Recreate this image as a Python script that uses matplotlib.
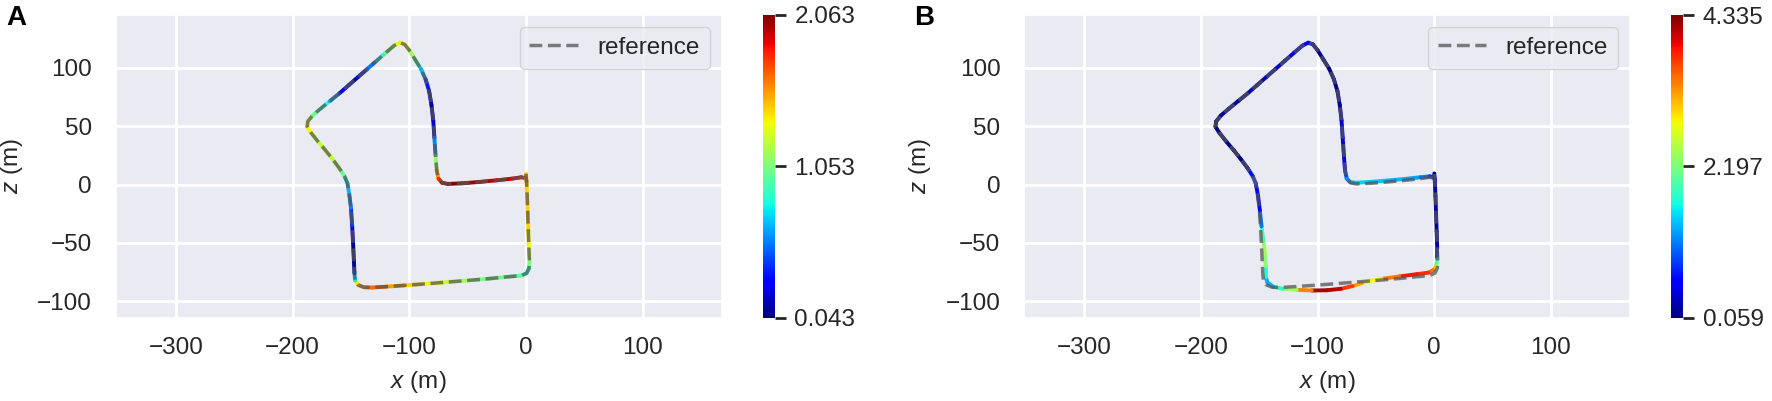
import numpy as np
import matplotlib
matplotlib.use("Agg")
import matplotlib.pyplot as plt
from matplotlib.collections import LineCollection
from matplotlib.colors import Normalize
import seaborn as sns

# ---------------- data ----------------
ref_x = [0.0, 0.5, 1.0, 1.5, 2.0, 2.5, 3.0, 2.5, 0.5, -4, -15, -30, -45, -60, -75, -90, -105, -120,
         -132, -139, -144, -146.5, -147, -147.5, -148.2, -149, -150, -151.5, -153, -155.5, -160, -166,
         -172, -178, -184, -187.5, -187, -183, -176, -168, -160, -152, -144, -136, -128, -120, -113,
         -108, -104, -100, -95, -90, -86, -83, -81, -79.5, -78.5, -77.5, -76.5, -75, -72, -67, -55,
         -40, -25, -12, -4, -0.5, 0.5]
ref_z = [9.0, 2.0, -10, -25, -40, -55, -66, -72, -76, -78, -79, -80.5, -81.8, -83, -84.2, -85.4, -86.5,
         -87.5, -88.3, -88, -86, -82, -76, -65, -50, -35, -20, -8, 1, 7, 14, 22, 29.5, 36.5, 44, 49.5,
         54, 59, 65, 71.5, 78, 85, 92, 99, 106, 113, 119, 121.5, 120, 115, 107, 99, 90, 80, 68, 55, 40,
         25, 12, 5, 1.5, 0.5, 1, 2.2, 3.6, 5, 6.2, 5.5, 3]

# panel A: estimate follows the reference
est_a_x = ref_x
est_a_z = ref_z
err_a = [1.5, 1.45, 1.4, 1.45, 1.4, 1.3, 1.15, 0.9, 0.8, 0.9, 1.05, 1.0, 1.1, 1.2, 1.3, 1.4, 1.45,
         1.65, 1.7, 1.6, 1.45, 1.35, 0.15, 0.06, 0.043, 0.3, 0.5, 0.6, 0.7, 0.85, 1.15, 1.2, 1.25, 1.2,
         1.3, 1.4, 1.35, 1.1, 0.9, 0.75, 0.45, 0.15, 0.1, 0.35, 0.7, 0.95, 1.2, 1.35, 1.4, 1.3, 1.0,
         0.8, 0.5, 0.2, 0.1, 0.1, 0.3, 0.8, 1.4, 1.7, 1.9, 2.0, 2.063, 1.95, 2.0, 1.9, 1.85, 1.7, 1.5]

# panel B: estimate
est_b_x = [0.0, 0.5, 1.0, 1.5, 2.0, 2.5, 2.5, 1.5, -1, -5, -15, -30, -45, -55, -62, -70, -80, -92,
           -105, -118, -130, -138, -143, -144.5, -144.5, -145, -146.5, -148, -149.5, -151, -153,
           -155.5, -160, -166, -172, -178, -184, -187.5, -187, -183, -176, -168, -160, -152, -144,
           -136, -128, -120, -113, -108, -104, -100, -95, -90, -86, -83, -81, -79.5, -78.5, -77.5,
           -76.5, -75, -72, -67, -55, -40, -25, -12, -4, -0.5, 0.5]
est_b_z = [9.5, 2, -10, -25, -40, -55, -64, -70, -73.5, -75.5, -76.8, -78.8, -80.8, -82.5, -84.5,
           -87, -89.3, -90.6, -90.8, -90.2, -89.3, -87.5, -84, -79, -70, -60, -48, -36, -22, -10, 1,
           7, 14, 22, 29.5, 36.5, 44, 49.5, 54, 59, 65, 71.5, 78, 85, 92, 99, 106, 113, 119, 121.5,
           120, 115, 107, 99, 90, 80, 68, 55, 40, 25, 12, 5, 2, 1.5, 2.2, 3.4, 4.8, 6.2, 7, 6.5, 4]
err_b = [0.1, 0.15, 0.3, 0.2, 0.1, 0.3, 1.2, 2.7, 3.3, 3.6, 3.9, 3.8, 3.0, 2.6, 2.9, 3.5, 3.9,
         4.335, 4.0, 2.7, 2.0, 1.5, 1.2, 1.4, 2.0, 2.5, 2.2, 1.6, 0.6, 0.4, 0.8,
         1.1, 0.2, 0.1, 0.08, 0.06, 0.059, 0.07, 0.1, 0.15, 0.3, 0.2, 0.15, 0.35, 0.2, 0.4, 0.3,
         0.6, 0.5, 0.7, 0.4, 0.2, 0.15, 0.1, 0.1, 0.2, 0.1, 0.3, 0.5, 0.3, 0.7, 1.0, 1.3, 1.4, 1.5,
         1.3, 1.4, 1.2, 1.0, 0.6, 0.2]

x_ticks = [-300, -200, -100, 0, 100]
z_ticks = [-100, -50, 0, 50, 100]
panel_letters = ["A", "B"]
legend_label = "reference"

# ---------------- style ----------------
sns.set_theme(style="darkgrid")
plt.rcParams["font.family"] = ["Liberation Sans", "DejaVu Sans"]
plt.rcParams["mathtext.fontset"] = "custom"
plt.rcParams["mathtext.it"] = "Liberation Sans:italic"
plt.rcParams["mathtext.rm"] = "Liberation Sans"
TXT = "#262626"
FS = 17.5

fig = plt.figure(figsize=(17.72, 4.01), dpi=100)
W, H = 1772.0, 401.0


def fx(px):
    return px / W


def fy(py):
    return 1 - py / H


def panel(off, ex, ez, err, letter):
    ax = fig.add_axes([fx(115.7 + off), fy(317.7), 606 / W, 302.7 / H])
    cax = fig.add_axes([fx(762.7 + off), fy(317.5), 12.3 / W, 302.5 / H])
    pts = np.column_stack([ex, ez])
    segs = np.stack([pts[:-1], pts[1:]], axis=1)
    e = np.asarray(err, dtype=float)
    norm = Normalize(e.min(), e.max())
    lc = LineCollection(segs, cmap="jet", norm=norm, linewidths=2.8,
                        capstyle="round", joinstyle="round")
    lc.set_array((e[:-1] + e[1:]) / 2)
    ax.add_collection(lc)
    ax.plot(ref_x, ref_z, linestyle="--", color="#555555", alpha=0.75, lw=2.5,
            label=legend_label)
    ax.set_xlim(-351.6, 167.7)
    ax.set_ylim(-114.1, 145.2)
    ax.set_xticks(x_ticks)
    ax.set_yticks(z_ticks)
    ax.grid(True, color="white", lw=2)
    ax.tick_params(axis="both", labelsize=FS, labelcolor=TXT, length=0)
    ax.tick_params(axis="x", pad=14)
    ax.tick_params(axis="y", pad=17)
    ax.set_xlabel("$x$ (m)", fontsize=FS, color=TXT)
    ax.set_ylabel("$z$ (m)", fontsize=FS, color=TXT)
    ax.xaxis.set_label_coords(0.5, -0.17)
    ax.yaxis.set_label_coords(-0.15, 0.5)
    ax.legend(loc="upper right", fontsize=FS)

    ticks = [e.min(), (e.min() + e.max()) / 2, e.max()]
    cb = fig.colorbar(lc, cax=cax, ticks=ticks)
    cb.ax.set_yticklabels([f"{v:.3f}" for v in ticks])
    cb.outline.set_visible(False)
    cax.tick_params(length=8, width=2, color=TXT, pad=6, labelsize=FS, labelcolor=TXT)

    fig.text(fx(6 + off), fy(5), letter, fontsize=20, fontweight="bold",
             ha="left", va="top", color="black")


panel(0, est_a_x, est_a_z, err_a, panel_letters[0])
panel(908.3, est_b_x, est_b_z, err_b, panel_letters[1])

fig.savefig("out.png", dpi=100)
